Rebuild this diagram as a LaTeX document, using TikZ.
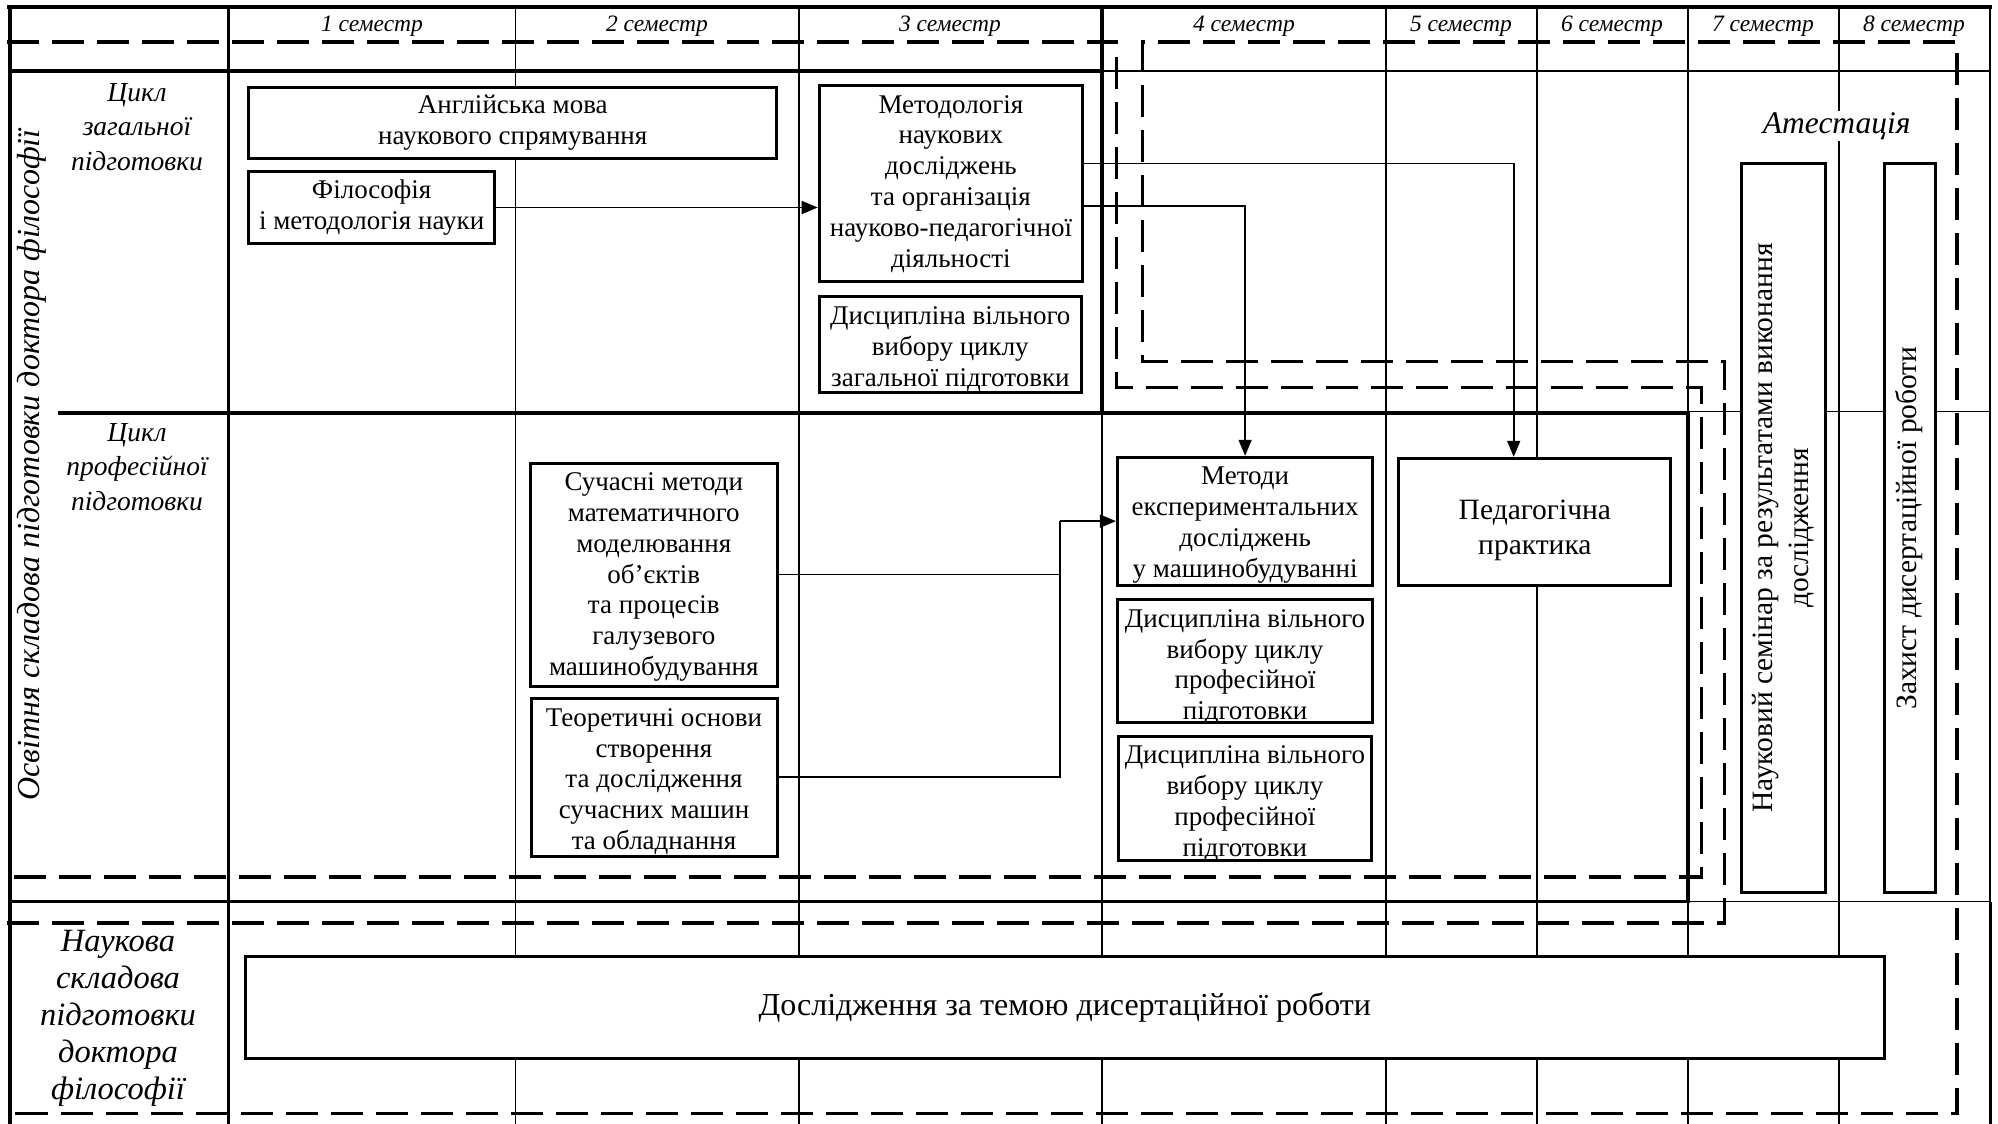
\documentclass[tikz,border=0pt]{standalone}
\usepackage{fontspec}
\setmainfont{Liberation Serif}
\usetikzlibrary{arrows.meta}
\newcommand{\fsz}[2]{\fontsize{#1pt}{#2pt}\selectfont}
\begin{document}
\begin{tikzpicture}[x=1pt,y=-1pt,
  thinl/.style={line width=1.7pt},
  thickl/.style={line width=3.6pt},
  dashl/.style={line width=3.4pt, dash pattern=on 32pt off 13pt, line join=miter},
  abox/.style={draw, line width=3pt, fill=white, inner sep=1pt, align=center, font=\fsz{27}{30.8}},
  btxt/.style={align=center, font=\fsz{27}{30.8}, inner sep=0pt},
  conn/.style={line width=1.6pt},
  arr/.style={conn, -{Triangle[length=16pt,width=13pt]}},
  semh/.style={font=\itshape\fsz{23.5}{28}, inner sep=0pt, anchor=base},
  lab/.style={align=center, font=\itshape\fsz{27.5}{34.4}, inner sep=0pt}
]
\useasboundingbox (0,0) rectangle (1998,1124);
% ---- table lines ----
\draw[thickl] (7,7.3) -- (1992,7.3);
\draw[thickl] (9.8,71) -- (1101.7,71);
\draw[thinl] (1101.7,71) -- (1990,71);
\draw[thickl] (58,412.7) -- (1687.7,412.7);
\draw[thinl] (1687.7,411.5) -- (1990,411.5);
\draw[thickl] (9.8,901.5) -- (1687.7,901.5);
\draw[thinl] (1687.7,901.5) -- (1990,901.5);
\draw[thickl] (9.8,5.5) -- (9.8,1124);
\draw[thickl] (228.6,5.5) -- (228.6,1124);
\draw[thinl] (515.6,7.3) -- (515.6,1124);
\draw[thinl] (799,7.3) -- (799,1124);
\draw[thickl] (1101.7,5.5) -- (1101.7,412.7);
\draw[thinl] (1101.7,412.7) -- (1101.7,1124);
\draw[thinl] (1386,7.3) -- (1386,1124);
\draw[thinl] (1536.7,7.3) -- (1536.7,1124);
\draw[thinl] (1687.7,7.3) -- (1687.7,412.7);
\draw[thickl] (1687.7,410.9) -- (1687.7,903.3);
\draw[thinl] (1687.7,901.5) -- (1687.7,1124);
\draw[thinl] (1838.7,7.3) -- (1838.7,1124);
\draw[thinl] (1990,7.3) -- (1990,901.5);
\draw[line width=3pt] (1990,901.5) -- (1990,1124);
% ---- dashed outlines ----
\draw[dashl] (7,42) -- (1116.7,42) -- (1116.7,387.7) -- (1701.7,387.7) -- (1701.7,877) -- (7,877);
\draw[dashl] (7,923) -- (1724.3,923) -- (1724.3,361.7) -- (1142.7,361.7) -- (1142.7,42) -- (1957,42) -- (1957,1113.3) -- (7,1113.3);
% ---- semester headers ----
\node[semh] (s1) at (372,32) {1 семестр};
\node[semh] (s2) at (657,32) {2 семестр};
\node[semh] (s3) at (950,32) {3 семестр};
\node[semh] (s4) at (1244,32) {4 семестр};
\node[semh] (s5) at (1461,32) {5 семестр};
\node[semh] (s6) at (1612,32) {6 семестр};
\node[semh] (s7) at (1763,32) {7 семестр};
\node[semh] (s8) at (1914,32) {8 семестр};
% ---- row labels ----
\node[lab] (lz) at (137,127) {Цикл\\загальної\\підготовки};
\node[lab] (lp) at (137,467) {Цикл\\професійної\\підготовки};
\node[lab, font=\itshape\fsz{32.5}{37}] (ln) at (118,1018) {Наукова\\складова\\підготовки\\доктора\\філософії};
\node[lab, font=\itshape\fsz{32}{36}, rotate=90] (lo) at (32,465) {Освітня складова підготовки доктора філософії};
\node[font=\itshape\fsz{31.5}{36}, fill=white, inner sep=1pt] (att) at (1836.7,126) {Атестація};
% ---- boxes ----
\node[abox, minimum width=528pt, minimum height=71pt] (eng) at (512.75,122.8) {Англійська мова\\наукового спрямування};
\node[abox, minimum width=246pt, minimum height=71.6pt] (fil) at (371.65,207.5) {Філософія\\і методологія науки};
\node[abox, minimum width=263.4pt, minimum height=195.7pt] (met) at (950.9,183.85) {Методологія\\наукових\\досліджень\\та організація\\науково-педагогічної\\діяльності};
\node[abox, minimum width=262.7pt, minimum height=96pt,
  label={[btxt,yshift=-4.5pt]center:{Дисципліна вільного\\вибору циклу\\загальної підготовки}}] (dz) at (950.35,344.7) {};
\node[abox, minimum width=246.8pt, minimum height=222.7pt,
  label={[btxt,yshift=-2.5pt]center:{Сучасні методи\\математичного\\моделювання\\об’єктів\\та процесів\\галузевого\\машинобудування}}] (suc) at (653.8,574.65) {};
\node[abox, minimum width=246pt, minimum height=157.7pt,
  label={[btxt,yshift=-4.5pt]center:{Теоретичні основи\\створення\\та дослідження\\сучасних машин\\та обладнання}}] (teo) at (654,777.15) {};
\node[abox, minimum width=255.4pt, minimum height=127.7pt,
  label={[btxt,yshift=-4pt]center:{Методи\\експериментальних\\досліджень\\у машинобудуванні}}] (mexp) at (1245.1,521.15) {};
\node[abox, minimum width=255.4pt, minimum height=123pt,
  label={[btxt,yshift=-6.4pt]center:{Дисципліна вільного\\вибору циклу\\професійної\\підготовки}}] (dp1) at (1245.1,660.8) {};
\node[abox, minimum width=252.2pt, minimum height=124pt,
  label={[btxt,yshift=-5.7pt]center:{Дисципліна вільного\\вибору циклу\\професійної\\підготовки}}] (dp2) at (1244.9,798) {};
\node[abox, minimum width=272.1pt, minimum height=126.7pt,
  label={[btxt,font=\fsz{29.5}{35},yshift=-9pt]center:{Педагогічна\\практика}}] (ped) at (1534.85,521.65) {};
\node[abox, rotate=90, minimum width=729.4pt, minimum height=84pt, font=\fsz{29.5}{36}] (semn) at (1783.7,528) {Науковий семінар за результатами виконання\\дослідження};
\node[abox, rotate=90, minimum width=729.4pt, minimum height=51pt, font=\fsz{29.5}{36}] (zah) at (1909.5,528) {Захист дисертаційної роботи};
\node[abox, minimum width=1638.5pt, minimum height=102.7pt, font=\fsz{32}{38}] (dos) at (1064.75,1007.35) {Дослідження за темою дисертаційної роботи};
% ---- connectors ----
\draw[arr] (fil.east) -- (fil.east -| met.west);
\draw[arr] ([yshift=20.55pt]met.east) -| ([xshift=-21.15pt]ped.north);
\draw[arr] ([yshift=-21.85pt]met.east) -| (mexp.north);
\path (mexp.west) ++(-55.8,0) coordinate (jn);
\draw[conn] (suc.east) -| (jn);
\draw[conn] (teo.east) -| (jn);
\draw[arr] (jn) -- (mexp.west);
\end{tikzpicture}
\end{document}
